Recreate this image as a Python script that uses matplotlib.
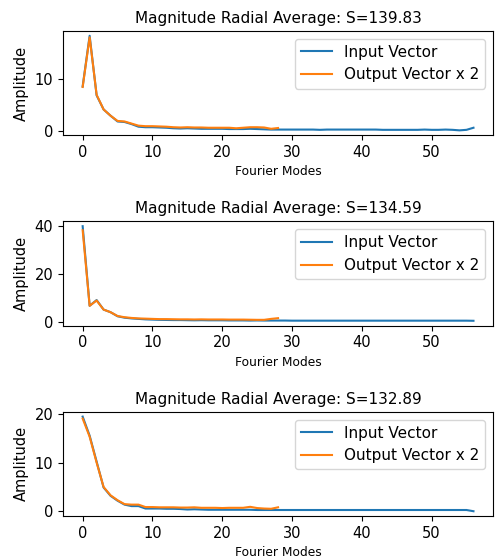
import matplotlib
matplotlib.use('Agg')
import matplotlib.pyplot as plt
import numpy as np

titles = ['Magnitude Radial Average: S=139.83',
          'Magnitude Radial Average: S=134.59',
          'Magnitude Radial Average: S=132.89']

input1 = [8.6, 18.3, 6.9, 4.2, 3.0, 1.9, 1.8, 1.4, 0.9, 0.8,
          0.8, 0.75, 0.7, 0.6, 0.55, 0.6, 0.55, 0.5, 0.5, 0.5,
          0.5, 0.45, 0.45, 0.45, 0.5, 0.45, 0.4, 0.35, 0.35, 0.35,
          0.35, 0.35, 0.35, 0.35, 0.3, 0.35, 0.35, 0.35, 0.35, 0.35,
          0.35, 0.35, 0.35, 0.3, 0.3, 0.3, 0.3, 0.3, 0.3, 0.35,
          0.3, 0.3, 0.35, 0.3, 0.2, 0.3, 0.7]
output1 = [8.5, 18.0, 7.0, 4.2, 3.0, 2.0, 1.9, 1.5, 1.1, 1.0,
           1.0, 0.95, 0.9, 0.8, 0.75, 0.8, 0.75, 0.75, 0.7, 0.7,
           0.7, 0.7, 0.6, 0.7, 0.8, 0.8, 0.75, 0.5, 0.65]

input2 = [40.0, 6.6, 9.0, 5.0, 3.9, 2.2, 1.6, 1.3, 1.1, 0.9,
          0.8, 0.7, 0.65, 0.6, 0.6, 0.55, 0.5, 0.55, 0.5, 0.5,
          0.5, 0.45, 0.45, 0.45, 0.4, 0.45, 0.4, 0.4, 0.4, 0.4,
          0.35, 0.35, 0.35, 0.35, 0.35, 0.35, 0.35, 0.35, 0.35, 0.35,
          0.35, 0.35, 0.35, 0.35, 0.35, 0.35, 0.35, 0.35, 0.35, 0.35,
          0.35, 0.35, 0.35, 0.35, 0.35, 0.35, 0.3]
output2 = [38.3, 6.6, 8.8, 5.0, 3.9, 2.3, 1.8, 1.5, 1.3, 1.2,
           1.1, 1.0, 1.0, 0.95, 0.9, 0.9, 0.85, 0.9, 0.85, 0.85,
           0.85, 0.8, 0.8, 0.8, 0.75, 0.7, 0.7, 1.1, 1.4]

input3 = [19.4, 15.5, 10.2, 4.9, 3.2, 2.2, 1.4, 1.1, 1.1, 0.6,
          0.6, 0.6, 0.55, 0.55, 0.5, 0.4, 0.45, 0.4, 0.35, 0.35,
          0.35, 0.35, 0.35, 0.35, 0.35, 0.3, 0.3, 0.3, 0.3, 0.3,
          0.3, 0.3, 0.3, 0.3, 0.3, 0.3, 0.3, 0.3, 0.3, 0.3,
          0.3, 0.3, 0.3, 0.3, 0.3, 0.3, 0.3, 0.3, 0.3, 0.3,
          0.3, 0.3, 0.3, 0.3, 0.3, 0.3, 0.05]
output3 = [19.0, 15.3, 10.0, 5.0, 3.3, 2.3, 1.5, 1.4, 1.4, 0.9,
           0.9, 0.85, 0.85, 0.85, 0.8, 0.8, 0.85, 0.75, 0.75, 0.75,
           0.7, 0.75, 0.75, 0.75, 0.95, 0.7, 0.6, 0.55, 0.85]

inputs = [input1, input2, input3]
outputs = [output1, output2, output3]

fig, axes = plt.subplots(3, 1, figsize=(4.97, 5.59), dpi=100)
plt.subplots_adjust(left=0.127, right=0.992, top=0.9445, bottom=0.077, hspace=0.83)

for ax, t, inp, outp in zip(axes, titles, inputs, outputs):
    ax.plot(np.arange(len(inp)), inp, label='Input Vector')
    ax.plot(np.arange(len(outp)), outp, label='Output Vector x 2')
    ax.set_title(t, fontsize=11)
    ax.set_ylabel('Amplitude', fontsize=10.5)
    ax.set_xlabel('Fourier Modes', fontsize=8.8)
    ax.legend(loc='upper right', fontsize=11)
    ax.tick_params(labelsize=10.5)

plt.savefig('out.png')
